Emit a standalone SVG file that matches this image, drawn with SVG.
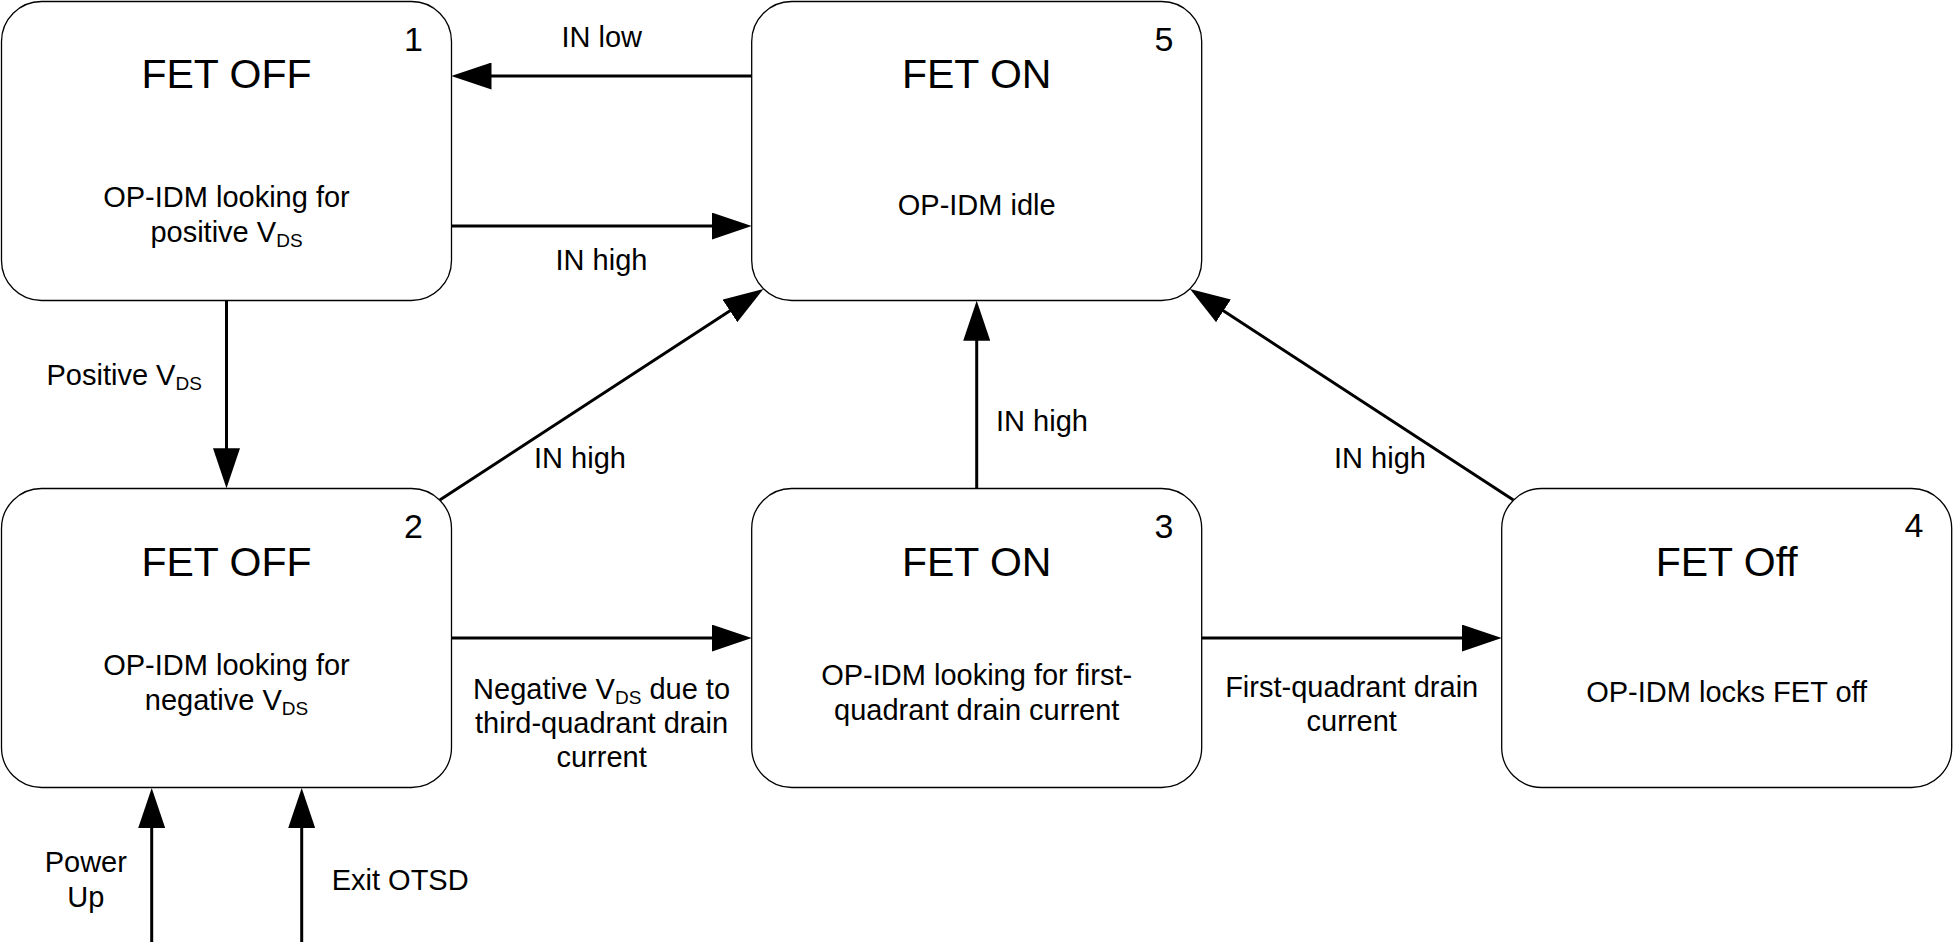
<svg xmlns="http://www.w3.org/2000/svg" width="1955" height="942" viewBox="0 0 1955 942">
<style>
.node rect{fill:#fff;stroke:#000;stroke-width:1.3}
text{font-family:"Liberation Sans",Arial,sans-serif;fill:#000}
.title{font-size:41px;text-anchor:middle}
.num{font-size:34px;text-anchor:middle}
.sub{font-size:29px;text-anchor:middle}
.lbl{font-size:29px}
.s{font-size:19px}
.conn line{stroke:#000;stroke-width:3;fill:none;marker-end:url(#ah)}
</style>
<defs>
<marker id="ah" markerUnits="userSpaceOnUse" viewBox="0 0 40 27" markerWidth="40" markerHeight="27" refX="34" refY="13.5" orient="auto">
<path d="M0,0 L40,13.5 L0,27 Z" fill="#000"/>
</marker>
</defs>
<rect width="1955" height="942" fill="#fff"/>
<g class="conn" id="connectors">
<line x1="751.7" y1="76" x2="457.5" y2="76"/>
<line x1="451.5" y1="226" x2="745.7" y2="226"/>
<line x1="226.5" y1="300.7" x2="226.5" y2="482.3"/>
<line x1="439.8" y1="500" x2="758.4" y2="292.3"/>
<line x1="976.7" y1="488.3" x2="976.7" y2="306.7"/>
<line x1="1513.4" y1="500" x2="1195" y2="292.3"/>
<line x1="451.5" y1="638" x2="745.7" y2="638"/>
<line x1="1201.7" y1="638" x2="1495.7" y2="638"/>
<line x1="151.7" y1="942" x2="151.7" y2="794"/>
<line x1="301.7" y1="942" x2="301.7" y2="794"/>
</g>
<g id="labels">
<text class="lbl" x="601.7" y="46.7" text-anchor="middle">IN low</text>
<text class="lbl" x="601.5" y="270" text-anchor="middle">IN high</text>
<text class="lbl" x="46.5" y="385">Positive V<tspan class="s" dy="5">DS</tspan></text>
<text class="lbl" x="580" y="468.3" text-anchor="middle">IN high</text>
<text class="lbl" x="996" y="431">IN high</text>
<text class="lbl" x="1380" y="468.3" text-anchor="middle">IN high</text>
<text class="lbl" text-anchor="middle"><tspan x="601.6" y="699">Negative V<tspan class="s" dy="5">DS</tspan><tspan dy="-5"> due to</tspan></tspan><tspan x="601.6" y="733">third-quadrant drain</tspan><tspan x="601.6" y="767">current</tspan></text>
<text class="lbl" text-anchor="middle"><tspan x="1351.7" y="697">First-quadrant drain</tspan><tspan x="1351.7" y="731">current</tspan></text>
<text class="lbl" text-anchor="middle"><tspan x="85.8" y="871.7">Power</tspan><tspan x="85.8" y="907">Up</tspan></text>
<text class="lbl" x="331.7" y="890">Exit OTSD</text>
</g>
<g id="node1" class="node">
<rect x="1.5" y="1.5" width="450" height="299" rx="40" ry="40"/>
<text class="num" x="413.5" y="50.7">1</text>
<text class="title" x="226.5" y="88.3">FET OFF</text>
<text class="sub"><tspan x="226.5" y="207.3">OP-IDM looking for</tspan><tspan x="226.5" y="241.7">positive V<tspan class="s" dy="5">DS</tspan></tspan></text>
</g>
<g id="node5" class="node">
<rect x="751.7" y="1.5" width="450" height="299" rx="40" ry="40"/>
<text class="num" x="1164" y="50.7">5</text>
<text class="title" x="976.7" y="88.3">FET ON</text>
<text class="sub" x="976.7" y="215">OP-IDM idle</text>
</g>
<g id="node2" class="node">
<rect x="1.5" y="488.5" width="450" height="299" rx="40" ry="40"/>
<text class="num" x="413.5" y="538.3">2</text>
<text class="title" x="226.5" y="576">FET OFF</text>
<text class="sub"><tspan x="226.5" y="675">OP-IDM looking for</tspan><tspan x="226.5" y="709.5">negative V<tspan class="s" dy="5">DS</tspan></tspan></text>
</g>
<g id="node3" class="node">
<rect x="751.7" y="488.5" width="450" height="299" rx="40" ry="40"/>
<text class="num" x="1164" y="538.3">3</text>
<text class="title" x="976.7" y="575.7">FET ON</text>
<text class="sub"><tspan x="976.7" y="685">OP-IDM looking for first-</tspan><tspan x="976.7" y="719.5">quadrant drain current</tspan></text>
</g>
<g id="node4" class="node">
<rect x="1501.7" y="488.5" width="450" height="299" rx="40" ry="40"/>
<text class="num" x="1914" y="537">4</text>
<text class="title" x="1726.7" y="575.7">FET Off</text>
<text class="sub" x="1726.7" y="701.7">OP-IDM locks FET off</text>
</g>
</svg>
